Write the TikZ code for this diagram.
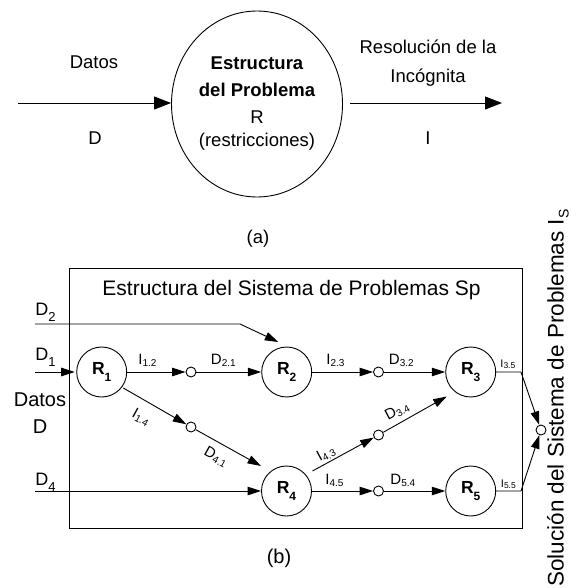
\documentclass[tikz,border=0pt]{standalone}
\usepackage{fontspec}
\setmainfont{Liberation Sans}
\usetikzlibrary{arrows.meta,calc,shapes.geometric}
\newcommand{\sbx}[3]{\raisebox{-#1pt}{\fontsize{#2}{#2}\selectfont #3}}
\begin{document}
\begin{tikzpicture}[x=1pt,y=-1pt,
  line width=0.9pt,
  big/.style={font=\fontsize{20}{22}\selectfont, inner sep=0},
  top/.style={font=\fontsize{18.5}{20}\selectfont, inner sep=0, anchor=base},
  topb/.style={font=\bfseries\fontsize{18.5}{20}\selectfont, inner sep=0, anchor=base},
  inl/.style={font=\fontsize{18}{18}\selectfont, inner sep=0, anchor=base west},
  arrbig/.style={-{Triangle[length=17pt,width=13pt]}},
  arr/.style={-{Triangle[length=13.5pt,width=8.5pt]}},
  rn/.style={circle, draw, minimum size=50pt, inner sep=0, font=\bfseries\fontsize{17.5}{17.5}\selectfont},
  jn/.style={circle, draw, minimum size=10pt, inner sep=0},
  fl/.style={font=\fontsize{15}{15}\selectfont, inner sep=0, anchor=base west},
  rl/.style={font=\fontsize{15}{15}\selectfont, inner sep=0},
  sm/.style={font=\fontsize{11}{11}\selectfont, inner sep=0, anchor=base west}
]
\useasboundingbox (0,0) rectangle (582,588);

% ---------- (a) ----------
\node[ellipse, draw, minimum width=171pt, minimum height=186pt, inner sep=0] (P) at (257,104) {};
\node[topb] (p1) at (257,70) {Estructura};
\node[topb] (p2) at (257,96.6) {del Problema};
\node[top] (p3) at (257,123.3) {R};
\node[top] (p4) at (257,146.5) {(restricciones)};
\coordinate (Ds) at (18,103);
\draw[arrbig] (Ds) -- (P.west |- Ds);
\coordinate (Po) at (350,103);
\coordinate (Ie) at (502,103);
\draw[arrbig] (Po) -- (Ie);
\node[top] (datos) at (94,68.3) {Datos};
\node[top] (dd) at (95,145) {D};
\node[top] (res1) at (428,53.3) {Resolución de la};
\node[top] (res2) at (428,83) {Incógnita};
\node[top] (ii) at (428,145) {I};
\node[top] (la) at (258,243) {(a)};

% ---------- (b) ----------
\node[draw, minimum width=453pt, minimum height=260pt, inner sep=0] (box) at (295.5,398) {};
\node[inner sep=0, font=\fontsize{21}{22}\selectfont] (title) at (291.5,290) {Estructura del Sistema de Problemas Sp};

\node[rn] (R1) at (101.7,372) {R\sbx{7}{12}{1}};
\node[rn] (R2) at (286.7,372) {R\sbx{7}{12}{2}};
\node[rn] (R3) at (470.7,372) {R\sbx{7}{12}{3}};
\node[rn] (R4) at (286.5,491) {R\sbx{7}{12}{4}};
\node[rn] (R5) at (470.7,491) {R\sbx{7}{12}{5}};

\node[jn] (c12) at (191,372) {};
\node[jn] (c23) at (378.5,372) {};
\node[jn] (c14) at (191,427) {};
\node[jn] (c43) at (378.5,435) {};
\node[jn] (c45) at (378.5,491) {};
\node[jn] (cS) at (541,430) {};

% inputs
\coordinate (d2s) at (35,324);
\coordinate (d2b) at (240,324);
\draw[arr] (d2s) -- (d2b) -- ($(R2)+(-8.4,-30)$);
\coordinate (d1s) at (35,372);
\draw[arr] (d1s) -- ($(R1)+(-27,0)$);
\coordinate (d4s) at (35,491);
\draw[arr] (d4s) -- (R4);

% internal flows
\draw[arr] (R1) -- (c12);
\draw[arr] (c12) -- (R2);
\draw[arr] (R2) -- (c23);
\draw[arr] (c23) -- (R3);
\draw[arr] (R4) -- (c45);
\draw[arr] (c45) -- (R5);
\draw[arr] ($(R1)+(21.6,16)$) -- (c14);
\draw[arr] (c14) -- ($(R4)+(-25.5,-25)$);
\draw[arr] ($(R4)+(26,-20)$) -- (c43);
\draw[arr] (c43) -- ($(R3)+(-24,24.5)$);

% outputs
\coordinate (b3) at (521,372);
\coordinate (b5) at (521,491);
\draw[arr] (R3) -- (b3) -- (cS);
\draw[arr] (R5) -- (b5) -- (cS);

% labels
\node[inl] (lD2) at (35,315) {D\sbx{6}{13}{2}};
\node[inl] (lD1) at (35,360) {D\sbx{6}{13}{1}};
\node[inl] (lD4) at (35,485) {D\sbx{6}{13}{4}};
\node[big, anchor=base] (ldatos) at (40,406.5) {Datos};
\node[big, anchor=base] (ldd) at (40,433) {D};

\node[fl] (l12) at (138,364.5) {I\sbx{2}{10}{1.2}};
\node[fl] (l21) at (210.5,364.5) {D\sbx{2}{10}{2.1}};
\node[fl] (l23) at (326,364.5) {I\sbx{2}{10}{2.3}};
\node[fl] (l32) at (388.5,364.5) {D\sbx{2}{10}{3.2}};
\node[fl] (l45) at (325,484) {I\sbx{2}{10}{4.5}};
\node[fl] (l54) at (390,484) {D\sbx{2}{10}{5.4}};
\node[sm] (l35) at (500,367) {I\sbx{1.5}{8.5}{3.5}};
\node[sm] (l55) at (500.5,487) {I\sbx{1.5}{8.5}{5.5}};

\node[rl, rotate=-29] (l14) at (141,417) {I\sbx{2}{10}{1.4}};
\node[rl, rotate=-29] (l41) at (216,457) {D\sbx{2}{10}{4.1}};
\node[rl, rotate=28] (l43) at (326,454) {I\sbx{2}{10}{4.3}};
\node[rl, rotate=28] (l34) at (397,411) {D\sbx{2}{10}{3.4}};

\node[font=\fontsize{22.5}{22.5}\selectfont, inner sep=0, rotate=90, anchor=base west] (sol) at (563.5,587) {Solución del Sistema de Problemas I\sbx{5}{14}{S}};
\node[big] (lb) at (279,558) {(b)};
\end{tikzpicture}
\end{document}
